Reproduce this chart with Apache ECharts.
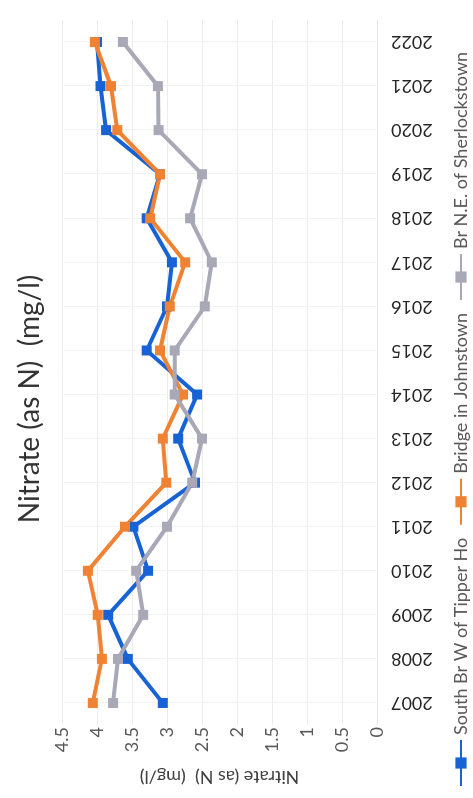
<!DOCTYPE html>
<html>
<head>
<meta charset="utf-8">
<script src="https://cdn.jsdelivr.net/npm/echarts@6/dist/echarts.min.js"></script>
<style>
  html, body { margin: 0; padding: 0; background: #fff; }
  #frame { position: relative; width: 473px; height: 798px; overflow: hidden; background: #fff; }
  /* chart is laid out landscape, then turned a quarter turn counter-clockwise */
  #chart { position: absolute; left: 0; top: 0; width: 798px; height: 473px;
           transform-origin: 0 0; transform: translateY(798px) rotate(-90deg); }
</style>
</head>
<body>
<div id="frame"><div id="chart"></div></div>
<script>
const years = ['2007','2008','2009','2010','2011','2012','2013','2014','2015','2016','2017','2018','2019','2020','2021','2022'];
const southBrW = [3.06, 3.56, 3.84, 3.27, 3.48, 2.60, 2.84, 2.57, 3.29, 3.00, 2.93, 3.29, 3.10, 3.87, 3.95, 4.00];
const bridgeJohnstown = [4.06, 3.93, 3.99, 4.13, 3.60, 3.01, 3.06, 2.77, 3.10, 2.96, 2.74, 3.24, 3.10, 3.71, 3.80, 4.03];
const brNESherlockstown = [3.77, 3.70, 3.34, 3.44, 3.00, 2.64, 2.50, 2.89, 2.89, 2.46, 2.36, 2.67, 2.50, 3.12, 3.13, 3.63];
const seriesNames = ['South Br W of Tipper Ho', 'Bridge in Johnstown', 'Br N.E. of Sherlockstown'];
const colors = ['#1763d6', '#f08233', '#a8a8b6'];
const font = 'Lato, "Open Sans", sans-serif';

const chart = echarts.init(document.getElementById('chart'), null, { renderer: 'canvas' });

function lineSeries(name, data, color) {
  return {
    name: name, type: 'line', data: data,
    symbol: 'rect', symbolSize: 10,
    itemStyle: { color: color },
    lineStyle: { color: color, width: 4 },
    emphasis: { disabled: true }
  };
}

chart.setOption({
  animation: false,
  title: {
    text: 'Nitrate (as N)  (mg/l)',
    left: 'center', top: 11,
    textStyle: { fontFamily: font, fontSize: 28, fontWeight: 'normal', color: '#333333' }
  },
  legend: {
    left: 6, top: 447, width: 2000,
    itemWidth: 46, itemHeight: 14, itemGap: 12,
    textStyle: { fontFamily: font, fontSize: 18, color: '#595959' },
    data: seriesNames
  },
  grid: { left: 73, right: 20, top: 62, bottom: 96, containLabel: false },
  xAxis: {
    type: 'category', data: years, boundaryGap: true,
    axisLine: { show: true, lineStyle: { color: '#e6e6e6' } },
    axisTick: { show: false },
    splitLine: { show: true, alignWithLabel: true, lineStyle: { color: '#f3f3f3', width: 1 } },
    axisLabel: { rotate: 90, margin: 14, fontFamily: font, fontSize: 18, color: '#262626' }
  },
  yAxis: {
    type: 'value', min: 0, max: 4.5, interval: 0.5,
    name: 'Nitrate (as N)  (mg/l)', nameLocation: 'middle', nameGap: 43,
    nameTextStyle: { fontFamily: font, fontSize: 18, color: '#404040' },
    axisLine: { show: false }, axisTick: { show: false },
    splitLine: { lineStyle: { color: '#ececec', width: 1 } },
    axisLabel: { margin: 2, fontFamily: font, fontSize: 18, color: '#595959' }
  },
  series: [
    lineSeries(seriesNames[0], southBrW, colors[0]),
    lineSeries(seriesNames[1], bridgeJohnstown, colors[1]),
    lineSeries(seriesNames[2], brNESherlockstown, colors[2])
  ]
});
</script>
</body>
</html>
